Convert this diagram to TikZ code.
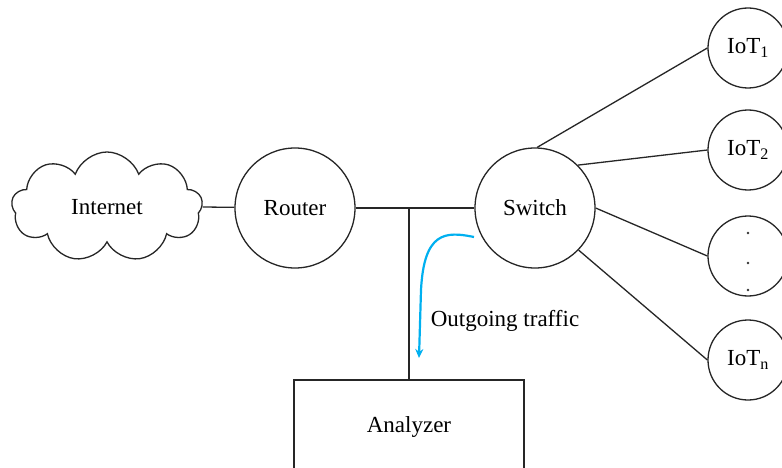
\documentclass[tikz,border=0pt]{standalone}
\usepackage{fontspec}
\setmainfont{Liberation Serif}
\usetikzlibrary{shapes.symbols,arrows.meta}
\begin{document}
\begin{tikzpicture}[x=1pt,y=-1pt,
  every node/.style={font=\fontsize{23}{26}\selectfont},
  ln/.style={draw=black!85, line width=1.3pt},
  bigc/.style={ln, circle, minimum size=120pt, inner sep=0pt},
  iotc/.style={ln, circle, minimum size=80pt, inner sep=0pt},
  traffic/.style={draw={rgb,255:red,0;green,176;blue,240}, line width=2.2pt, -{Stealth[length=9pt,width=8pt]}},
  dotn/.style={circle, fill=black!80, inner sep=0pt, minimum size=2.6pt}]
\clip (0,0) rectangle (782,468);
\useasboundingbox (0,0) rectangle (782,468);
\fill[white] (0,0) rectangle (782,468);

\node[ln, cloud, cloud puffs=9, cloud puff arc=140, aspect=1.75, minimum width=191pt, minimum height=110pt, inner sep=0pt] (inet) at (107,207) {Internet};
\node[bigc] (router) at (295,208) {Router};
\node[bigc] (switch) at (535,208) {Switch};
\node[iotc] (iot1) at (748,48) {IoT\textsubscript{1}};
\node[iotc] (iot2) at (748,150) {IoT\textsubscript{2}};
\node[iotc] (iotd) at (748,256) {};
\node[iotc] (iotn) at (748,360) {IoT\textsubscript{n}};
\node[dotn] (d1) at (748,233) {};
\node[dotn] (d2) at (748,263) {};
\node[dotn] (d3) at (748,290) {};
\node[ln, rectangle, minimum width=230pt, minimum height=94pt, inner sep=0pt] (an) at (409,427) {Analyzer};
\node (lbl) at (505,321) {Outgoing traffic};

\coordinate (j) at (409,208);
\draw[ln] (inet.east) -- (router);
\draw[ln] (router) -- (switch);
\draw[ln] (j) -- (an.north);
\draw[ln] (switch.88) -- (iot1.west);
\draw[ln] (switch.45) -- (iot2.west);
\draw[ln] (switch.0) -- (iotd.west);
\draw[ln] (switch.-44) -- (iotn.west);

\coordinate (ts) at (474,237);
\coordinate (te) at (419,358);
\draw[traffic] (ts) .. controls (445,231) and (424,232) .. (421,290) -- (te);
\end{tikzpicture}
\end{document}
